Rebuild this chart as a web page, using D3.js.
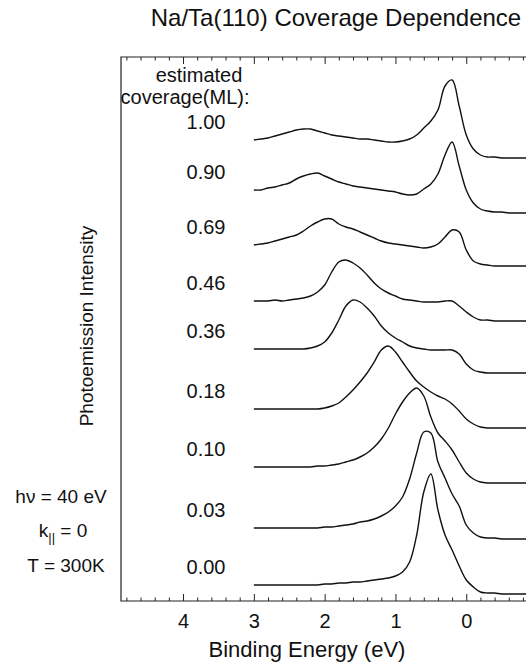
<html>
<head>
    <meta charset="utf-8">
    <style>
        body { margin: 0; background: #fff; }
        text { font-family: "Liberation Sans", Arial, Helvetica, sans-serif; fill: #111; }
        .frame { fill: none; stroke: #222; stroke-width: 1.2; }
        .spectrum { fill: none; stroke: #111; stroke-width: 1.4; stroke-linejoin: round; }
        .tick line { stroke: #222; stroke-width: 1; }
    </style>
    <script src="https://cdn.jsdelivr.net/npm/d3@7/dist/d3.min.js"></script>
</head>
<body>
<div id="chart-container"></div>
<script>

    // binding energy grid (eV), shared by all spectra
    var energies = [3.0, 2.9, 2.8, 2.7, 2.6, 2.5, 2.4, 2.3, 2.2, 2.1, 2.0, 1.9, 1.8, 1.7, 1.6, 1.5, 1.4, 1.3, 1.2, 1.1,
                    1.0, 0.9, 0.8, 0.7, 0.6, 0.5, 0.4, 0.3, 0.2, 0.1, 0.0, -0.1, -0.2, -0.3, -0.4, -0.5, -0.6, -0.7, -0.8, -0.9];

    var coverages = ["1.00", "0.90", "0.69", "0.46", "0.36", "0.18", "0.10", "0.03", "0.00"];

    // photoemission intensity (arb. units, offsets included)
    var cov100 = [461,462,463,465,467,469,471,472,472,470,468,466,465,464,463,462,462,461,460,459,459,460,462,466,473,480,491,515,521,495,466,452,446,444,444,443,443,443,443,443];
    var cov090 = [411,411,413,414,416,418,422,425,427,428,425,422,419,417,415,414,413,412,411,410,409,407,406,407,412,417,427,446,459,435,411,398,392,390,389,389,388,388,388,388];
    var cov069 = [356,357,358,360,362,364,366,370,375,379,382,382,377,374,372,369,366,363,360,358,357,356,355,354,353,354,357,364,371,369,351,340,337,336,335,335,335,335,335,335];
    var cov046 = [300,300,300,301,300,301,302,303,305,309,316,329,339,341,338,333,326,318,312,308,305,302,301,300,299,299,299,300,300,295,289,284,281,281,280,280,280,280,280,280];
    var cov036 = [252,252,252,252,252,252,252,252,253,255,259,268,281,295,301,299,293,285,275,268,263,259,255,253,252,251,251,251,251,247,237,231,229,228,228,228,228,228,228,228];
    var cov018 = [192,192,192,192,192,192,192,192,192,192,193,195,198,204,211,219,228,239,251,255,249,239,229,220,214,209,205,202,197,190,182,177,174,173,173,173,173,173,173,173];
    var cov010 = [134,134,134,134,134,134,134,134,134,135,135,136,137,139,141,144,148,154,162,173,187,199,208,213,205,184,168,160,151,139,128,122,119,118,118,118,118,118,118,118];
    var cov003 = [73,73,73,73,73,73,73,73,73,73,74,74,75,76,77,79,80,82,85,89,95,104,122,148,169,168,139,123,107,95,76,68,64,63,63,62,62,62,62,62];
    var cov000 = [16,16,16,16,16,16,16,16,16,16,17,17,18,18,19,19,20,21,22,23,25,29,39,66,109,127,91,66,51,35,21,14,9,8,8,7,7,7,7,7];

    var spectra = [cov100, cov090, cov069, cov046, cov036, cov018, cov010, cov003, cov000];

    var width = 526, height = 664;
    var plotLeft = 121, plotTop = 57, plotBottom = 601, plotRight = 530;

    var svg = d3.select("#chart-container").append("svg")
        .attr("width", width)
        .attr("height", height);

    var x = d3.scaleLinear().domain([4.876, -0.9]).range([plotLeft, plotRight]);
    var y = d3.scaleLinear().domain([0, 544]).range([plotBottom, plotTop]);

    // frame (right side runs off the page)
    svg.append("path")
        .attr("class", "frame")
        .attr("d", "M" + (plotRight + 10) + "," + plotTop + "H" + plotLeft + "V" + plotBottom + "H" + (plotRight + 10));

    var majors = [4, 3, 2, 1, 0];
    var minors = d3.range(-8, 49, 2).map(function (d) { return d / 10; })
        .filter(function (d) { return Math.abs(d - Math.round(d)) > 0.01; });

    function addAxis(gen, yPos, vals, size, labels) {
        var g = svg.append("g")
            .attr("transform", "translate(0," + yPos + ")")
            .call(gen(x).tickValues(vals).tickSizeInner(size).tickSizeOuter(0)
                .tickPadding(13)
                .tickFormat(labels ? d3.format("d") : ""));
        g.select(".domain").remove();
        g.selectAll("text").attr("font-size", "20px").attr("font-family", null);
        return g;
    }

    addAxis(d3.axisBottom, plotBottom, minors, -3.5, false);
    addAxis(d3.axisBottom, plotBottom, majors, -7, true);
    addAxis(d3.axisTop, plotTop, minors, -3.5, false);
    addAxis(d3.axisTop, plotTop, majors, -7, false);

    var line = d3.line()
        .x(function (d, i) { return x(energies[i]); })
        .y(function (d) { return y(d); })
        .curve(d3.curveCatmullRom.alpha(0.5));

    svg.append("g")
        .selectAll("path")
        .data(spectra)
        .enter()
        .append("path")
        .attr("class", "spectrum")
        .attr("d", line);

    // coverage labels sit just above the left end of each curve
    svg.append("g")
        .selectAll("text")
        .data(coverages)
        .enter()
        .append("text")
        .attr("x", 206)
        .attr("y", function (d, i) { return y(spectra[i][0]) - 11; })
        .attr("text-anchor", "middle")
        .attr("font-size", "20px")
        .text(function (d) { return d; });

    svg.append("text")
        .attr("x", 199).attr("y", 82)
        .attr("text-anchor", "middle")
        .attr("font-size", "20px")
        .text("estimated");

    svg.append("text")
        .attr("x", 185).attr("y", 104)
        .attr("text-anchor", "middle")
        .attr("font-size", "20px")
        .text("coverage(ML):");

    svg.append("text")
        .attr("x", 336).attr("y", 26)
        .attr("text-anchor", "middle")
        .attr("font-size", "24px")
        .text("Na/Ta(110) Coverage Dependence");

    svg.append("text")
        .attr("transform", "translate(93,326) rotate(-90)")
        .attr("text-anchor", "middle")
        .attr("font-size", "19px")
        .text("Photoemission Intensity");

    svg.append("text")
        .attr("x", 307).attr("y", 657)
        .attr("text-anchor", "middle")
        .attr("font-size", "22px")
        .text("Binding Energy (eV)");

    // experimental conditions
    svg.append("text")
        .attr("x", 61).attr("y", 503)
        .attr("text-anchor", "middle")
        .attr("font-size", "19px")
        .text("h\u03bd = 40 eV");

    var k = svg.append("text")
        .attr("x", 63).attr("y", 537)
        .attr("text-anchor", "middle")
        .attr("font-size", "19px");
    k.append("tspan").text("k");
    k.append("tspan").attr("font-size", "13px").attr("dy", 5).text("||");
    k.append("tspan").attr("dy", -5).text(" = 0");

    svg.append("text")
        .attr("x", 66).attr("y", 572)
        .attr("text-anchor", "middle")
        .attr("font-size", "19px")
        .text("T = 300K");

</script>
</body>
</html>
